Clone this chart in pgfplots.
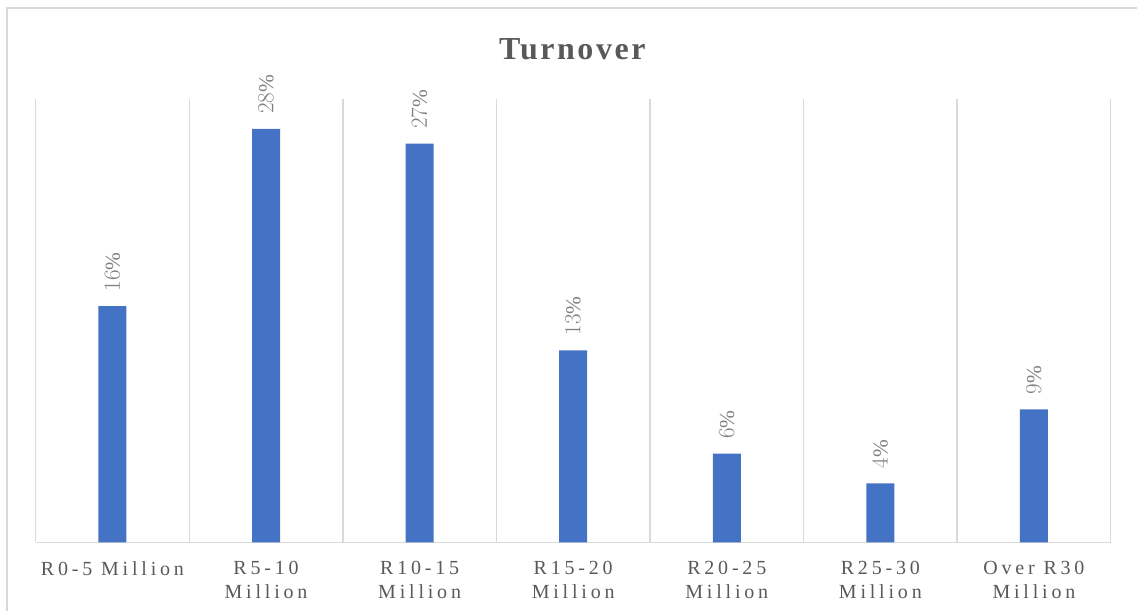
\documentclass[border=0pt]{standalone}
\usepackage{fontspec}
\setmainfont{Liberation Serif}
\usepackage{pgfplots}
\pgfplotsset{compat=1.18}
\definecolor{barblue}{HTML}{4472C4}
\definecolor{gridgray}{HTML}{D9D9D9}
\definecolor{txtgray}{HTML}{595959}
\definecolor{lblgray}{HTML}{7F7F7F}
\begin{document}
\begin{tikzpicture}[x=1pt,y=1pt]
\draw[gridgray, line width=1.3pt] (5.25,0) -- (5.25,452.25) -- (852.75,452.25);
\node[font=\fontsize{24}{28}\selectfont\bfseries\addfontfeature{LetterSpace=8}, text=txtgray] at (429.2,421.5) {Turnover};
\begin{axis}[at={(23.25,46.5)}, anchor=south west, scale only axis,
  width=806.25pt, height=332.25pt,
  xmin=-0.5, xmax=6.5, ymin=0, ymax=30,
  ybar, bar width=21pt,
  axis x line*=bottom, axis y line=none,
  x axis line style={-, draw=gridgray, line width=1.1pt},
  xtick={0,1,2,3,4,5,6},
  xticklabels={{R0-5 Million},{R5-10\\Million},{R10-15\\Million},{R15-20\\Million},{R20-25\\Million},{R25-30\\Million},{Over R30\\Million}},
  xticklabel style={align=center, inner sep=0pt, anchor=north, yshift=-14pt, text=txtgray,
    font=\fontsize{15}{18}\selectfont\addfontfeature{LetterSpace=19}},
  major tick length=0pt, minor tick length=0pt,
  minor xtick={-0.5,0.5,1.5,2.5,3.5,4.5,5.5,6.5},
  xminorgrids, minor grid style={gridgray, line width=1.1pt},
  ytick=\empty,
  nodes near coords={\pgfmathprintnumber{\pgfplotspointmeta}\%},
  every node near coord/.append style={yshift=11pt, rotate=90, anchor=west, inner sep=0pt,
    text=lblgray, font=\fontsize{16}{18}\selectfont},
  clip=false,
]
\addplot[fill=barblue, draw=none] coordinates {(0,16) (1,28) (2,27) (3,13) (4,6) (5,4) (6,9)};
\end{axis}
\pgfresetboundingbox
\useasboundingbox (0,0) rectangle (852.75,458.25);
\end{tikzpicture}
\end{document}
